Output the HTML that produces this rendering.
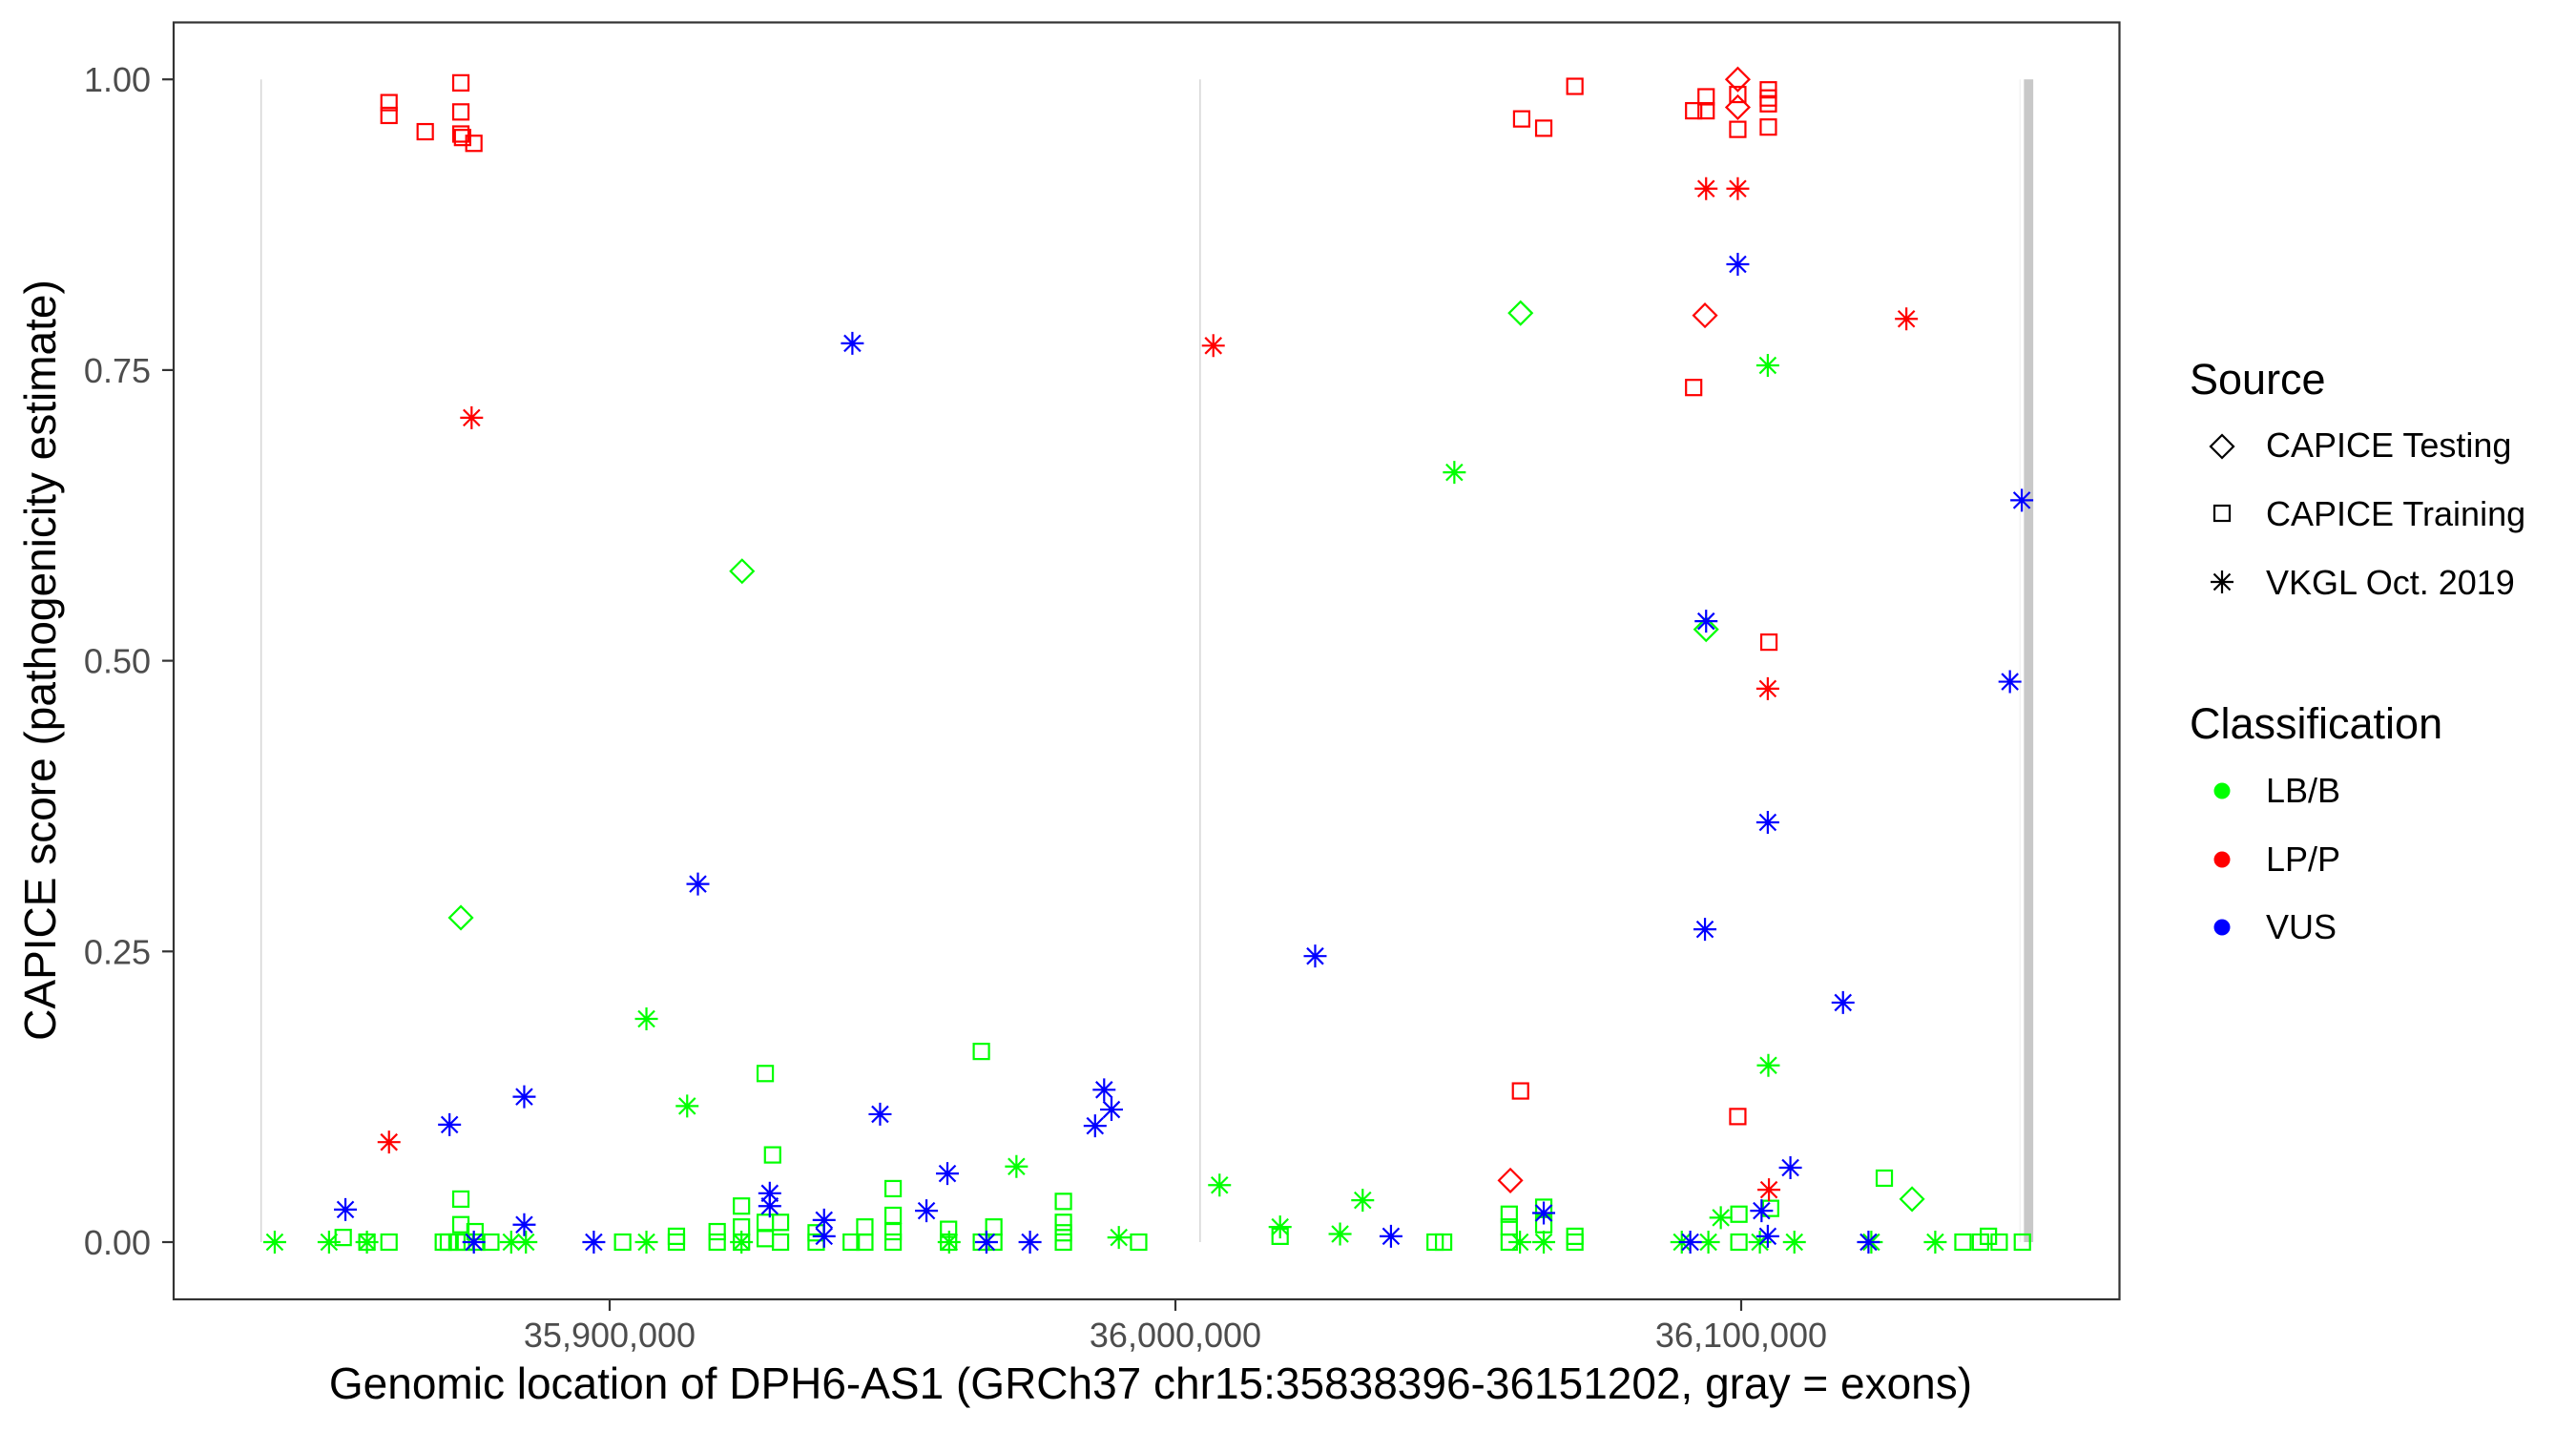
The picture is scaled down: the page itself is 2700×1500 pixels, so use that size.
<!DOCTYPE html>
<html>
<head>
<meta charset="utf-8">
<style>
  html, body { margin: 0; padding: 0; background: #ffffff; }
  svg { display: block; font-family: "Liberation Sans", Arial, sans-serif; }
</style>
</head>
<body>
<svg id="chart" width="2700" height="1500" viewBox="0 0 2700 1500" xmlns="http://www.w3.org/2000/svg">
  <rect x="0" y="0" width="2700" height="1500" fill="#ffffff"/>
  <g id="exons"></g>
  <g id="points"></g>
  <rect x="182" y="23.5" width="2039.5" height="1338.5" fill="none" stroke="#333333" stroke-width="2.2"/>
  <g id="yaxis"></g>
  <g id="xaxis"></g>
  <text x="58" y="692" transform="rotate(-90 58 692)" text-anchor="middle" font-size="46" fill="#000">CAPICE score (pathogenicity estimate)</text>
  <text x="1206" y="1466" text-anchor="middle" font-size="46" fill="#000">Genomic location of DPH6-AS1 (GRCh37 chr15:35838396-36151202, gray = exons)</text>

  <g>
    <text x="2295" y="413" font-size="45" fill="#000">Source</text>
    <g>
      <path d="M2329 456 L2341 468 L2329 480 L2317 468 Z" fill="none" stroke="#000" stroke-width="2.2"/>
      <text x="2375" y="479" font-size="36" fill="#000">CAPICE Testing</text>
    </g>
    <g>
      <rect x="2321" y="530" width="16" height="16" fill="none" stroke="#000" stroke-width="2.2"/>
      <text x="2375" y="551" font-size="36" fill="#000">CAPICE Training</text>
    </g>
    <g>
      <path d="M2329 598 V622 M2317 610 H2341 M2320.5 601.5 L2337.5 618.5 M2337.5 601.5 L2320.5 618.5" stroke="#000" stroke-width="2.2"/>
      <text x="2375" y="623" font-size="36" fill="#000">VKGL Oct. 2019</text>
    </g>
  </g>
  <g>
    <text x="2295" y="774" font-size="45" fill="#000">Classification</text>
    <g>
      <circle cx="2329" cy="829" r="8.5" fill="#00ff00"/>
      <text x="2375" y="841" font-size="36" fill="#000">LB/B</text>
    </g>
    <g>
      <circle cx="2329" cy="901" r="8.5" fill="#ff0000"/>
      <text x="2375" y="913" font-size="36" fill="#000">LP/P</text>
    </g>
    <g>
      <circle cx="2329" cy="972" r="8.5" fill="#0000ff"/>
      <text x="2375" y="984" font-size="36" fill="#000">VUS</text>
    </g>
  </g>
</svg>
<script>
// ---- data (positions in kb offset from 35,800,000; scores 0-1) ----
const yTicks = [0, 0.25, 0.5, 0.75, 1];
const yTickLabels = ["0.00", "0.25", "0.50", "0.75", "1.00"];
const xTicks = [35900000, 36000000, 36100000];
const xTickLabels = ["35,900,000", "36,000,000", "36,100,000"];
const exonLinePositions = [35838396, 36004360, 36149300];
const exonBandStart = 36150400;
const exonBandEnd = 36151202;

const trainLPPos = [61.0,61.0,67.4,73.7,73.7,73.7,74.0,76.0,270.6,261.2,265.1,291.6,293.8,293.8,299.4,299.4,304.8,304.8,304.8,304.8,291.6,304.9,261.0,299.4];
const trainLPScore = [0.980,0.969,0.955,0.997,0.972,0.953,0.950,0.945,0.994,0.966,0.958,0.973,0.985,0.973,0.987,0.957,0.991,0.984,0.979,0.959,0.735,0.516,0.130,0.108];
const testLPPos = [299.4,299.4,293.6,259.2];
const testLPScore = [1.0,0.976,0.797,0.053];
const vkglLPPos = [75.6,61.0,206.7,293.8,299.4,329.2,304.7,304.9];
const vkglLPScore = [0.709,0.086,0.771,0.906,0.906,0.794,0.476,0.045];
const vkglVUSPos = [142.9,115.6,84.9,71.7,53.3,76.0,84.9,97.2,147.8,159.7,156.0,128.3,128.3,137.9,137.9,166.6,174.3,187.4,188.7,185.8,299.4,293.8,347.5,349.6,304.7,293.6,318.0,224.7,308.7,265.1,303.6,238.1,291.0,304.7,322.5];
const vkglVUSScore = [0.773,0.308,0.125,0.101,0.028,0,0.015,0,0.110,0.059,0.027,0.042,0.031,0.019,0.005,0,0,0.131,0.114,0.100,0.841,0.534,0.482,0.638,0.361,0.269,0.206,0.246,0.064,0.025,0.027,0.005,0,0.005,0];
const testLBPos = [123.4,73.7,261.0,293.8,330.2];
const testLBScore = [0.577,0.279,0.799,0.527,0.037];
const vkglLBPos = [106.5,113.7,171.9,207.8,40.8,50.4,57.1,82.6,85.2,106.5,123.3,160.0,190.0,218.5,249.3,304.7,304.8,233.1,229.1,296.4,289.5,294.2,303.3,309.4,323.0,334.3,260.9,265.1];
const vkglLBScore = [0.192,0.117,0.065,0.049,0,0,0,0,0,0,0,0,0.004,0.013,0.662,0.754,0.152,0.036,0.007,0.021,0,0,0,0,0,0,0,0];
const trainLBPos = [52.9,57.1,61.0,70.6,71.5,73.0,74.5,76.5,79.0,73.7,73.7,76.2,102.3,111.8,111.8,119.0,119.0,123.3,123.3,127.5,128.8,123.3,127.5,130.2,127.5,130.2,136.5,136.5,142.7,145.1,145.1,150.1,150.1,150.1,150.1,159.9,159.9,165.7,165.7,167.9,167.9,180.2,180.2,180.2,180.2,193.5,218.5,325.3,299.6,305.2,259.0,259.0,265.1,265.1,245.9,247.4,259.0,270.6,270.6,299.6,339.2,343.7,342.3,345.6,349.7];
const trainLBScore = [0.004,0,0,0,0,0,0,0,0,0.037,0.015,0.009,0,0.005,0,0.009,0,0.013,0,0.145,0.075,0.031,0.017,0.017,0.003,0,0,0.008,0,0.013,0,0.046,0.023,0.009,0,0.011,0,0.164,0,0.013,0,0.035,0.017,0.008,0,0,0.005,0.055,0.024,0.029,0.024,0.013,0.030,0.015,0,0,0,0,0.005,0,0,0.005,0,0,0];

// ---- scales ----
const NS = "http://www.w3.org/2000/svg";
function xScale(bp) { return 639 + (bp - 35900000) * 0.00593; }
function xScaleK(k) { return xScale(35800000 + k * 1000); }
function yScale(v) { return 1302 - v * 1218.8; }
const COLORS = { LB: "#00ff00", LP: "#ff0000", VUS: "#0000ff" };

const exG = document.getElementById("exons");
exonLinePositions.forEach((p, i) => {
  const l = document.createElementNS(NS, "line");
  l.setAttribute("x1", xScale(p)); l.setAttribute("x2", xScale(p));
  l.setAttribute("y1", yScale(1)); l.setAttribute("y2", yScale(0));
  l.setAttribute("stroke", i === 2 ? "#f2f2f2" : "#d6d6d6");
  l.setAttribute("stroke-width", "1.5");
  
  
  exG.appendChild(l);
});
const band = document.createElementNS(NS, "rect");
const bx1 = xScale(exonBandStart) - 2.5, bx2 = xScale(exonBandEnd) + 2.5;
band.setAttribute("x", bx1); band.setAttribute("width", bx2 - bx1);
band.setAttribute("y", yScale(1)); band.setAttribute("height", yScale(0) - yScale(1));
band.setAttribute("fill", "#c8c8c8");


exG.appendChild(band);

const ptG = document.getElementById("points");
function drawShape(shape, cx, cy, color) {
  let el;
  if (shape === "square") {
    el = document.createElementNS(NS, "rect");
    el.setAttribute("x", cx - 8); el.setAttribute("y", cy - 8);
    el.setAttribute("width", 16); el.setAttribute("height", 16);
    el.setAttribute("fill", "none");
  } else if (shape === "diamond") {
    el = document.createElementNS(NS, "path");
    el.setAttribute("d", `M${cx} ${cy-12} L${cx+12} ${cy} L${cx} ${cy+12} L${cx-12} ${cy} Z`);
    el.setAttribute("fill", "none");
  } else {
    el = document.createElementNS(NS, "path");
    const r = 12, d = 8.5;
    el.setAttribute("d", `M${cx} ${cy-r} V${cy+r} M${cx-r} ${cy} H${cx+r} M${cx-d} ${cy-d} L${cx+d} ${cy+d} M${cx+d} ${cy-d} L${cx-d} ${cy+d}`);
  }
  el.setAttribute("stroke", color);
  el.setAttribute("stroke-width", "2.2");
  ptG.appendChild(el);
  return el;
}
function drawSeries(posArr, scoreArr, shape, cls, name) {
  posArr.forEach((p, i) => {
    const el = drawShape(shape, xScaleK(p), yScale(scoreArr[i]), COLORS[cls]);
    
    
  });
}
drawSeries(trainLBPos, trainLBScore, "square", "LB", "point-training-lbb");
drawSeries(vkglLBPos, vkglLBScore, "star", "LB", "point-vkgl-lbb");
drawSeries(testLBPos, testLBScore, "diamond", "LB", "point-testing-lbb");
drawSeries(vkglVUSPos, vkglVUSScore, "star", "VUS", "point-vkgl-vus");
drawSeries(trainLPPos, trainLPScore, "square", "LP", "point-training-lpp");
drawSeries(testLPPos, testLPScore, "diamond", "LP", "point-testing-lpp");
drawSeries(vkglLPPos, vkglLPScore, "star", "LP", "point-vkgl-lpp");

const yG = document.getElementById("yaxis");
yTicks.forEach((v, i) => {
  const y = yScale(v);
  const t = document.createElementNS(NS, "line");
  t.setAttribute("x1", 170); t.setAttribute("x2", 182);
  t.setAttribute("y1", y); t.setAttribute("y2", y);
  t.setAttribute("stroke", "#333333"); t.setAttribute("stroke-width", "2.2");
  
  
  yG.appendChild(t);
  const tx = document.createElementNS(NS, "text");
  tx.setAttribute("x", 158); tx.setAttribute("y", y + 13);
  tx.setAttribute("text-anchor", "end"); tx.setAttribute("font-size", "36");
  tx.setAttribute("fill", "#4d4d4d");
  tx.textContent = yTickLabels[i];
  
  
  yG.appendChild(tx);
});
const xG = document.getElementById("xaxis");
xTicks.forEach((v, i) => {
  const x = xScale(v);
  const t = document.createElementNS(NS, "line");
  t.setAttribute("x1", x); t.setAttribute("x2", x);
  t.setAttribute("y1", 1362); t.setAttribute("y2", 1374);
  t.setAttribute("stroke", "#333333"); t.setAttribute("stroke-width", "2.2");
  
  
  xG.appendChild(t);
  const tx = document.createElementNS(NS, "text");
  tx.setAttribute("x", x); tx.setAttribute("y", 1412);
  tx.setAttribute("text-anchor", "middle"); tx.setAttribute("font-size", "36");
  tx.setAttribute("fill", "#4d4d4d");
  tx.textContent = xTickLabels[i];
  
  
  xG.appendChild(tx);
});
</script>
</body>
</html>
